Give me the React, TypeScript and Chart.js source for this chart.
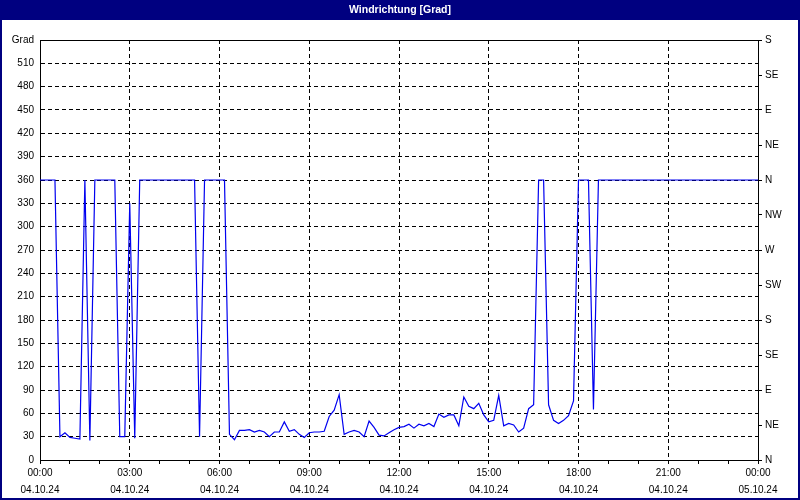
import React, { useEffect, useRef } from 'react';
import { Chart, registerables } from 'chart.js';

Chart.register(...registerables);

const TITLE = 'Windrichtung [Grad]';
const Y_UNIT_LABEL = 'Grad';
const INTERVAL_MIN = 10;

// wind direction in degrees, one reading every 10 minutes (04.10.24 00:00 -> 05.10.24 00:00)
const WIND_DIR: number[] = [
  360, 360, 360, 360, 30, 35, 29, 28, 27, 360,
  25, 360, 360, 360, 360, 360, 30, 30, 330, 28,
  360, 360, 360, 360, 360, 360, 360, 360, 360, 360,
  360, 360, 30, 360, 360, 360, 360, 360, 33, 26,
  38, 38, 39, 36, 38, 36, 30, 36, 36, 49,
  37, 39, 33, 29, 35, 36, 36, 37, 56, 64,
  84, 33, 36, 38, 36, 30, 50, 42, 32, 31,
  35, 39, 42, 43, 46, 41, 46, 44, 47, 43,
  59, 55, 58, 58, 44, 81, 69, 66, 73, 58,
  49, 51, 83, 44, 47, 45, 36, 41, 66, 71,
  360, 360, 71, 51, 47, 51, 57, 76, 360, 360,
  360, 65, 360, 360, 360, 360, 360, 360, 360, 360,
  360, 360, 360, 360, 360, 360, 360, 360, 360, 360,
  360, 360, 360, 360, 360, 360, 360, 360, 360, 360,
  360, 360, 360, 360, 360,
];
const TIME_MIN: number[] = WIND_DIR.map((_, i) => i * INTERVAL_MIN);

const X_TICK_TIMES = ['00:00', '03:00', '06:00', '09:00', '12:00', '15:00', '18:00', '21:00', '00:00'];
const X_TICK_DATES = ['04.10.24', '04.10.24', '04.10.24', '04.10.24', '04.10.24', '04.10.24', '04.10.24', '04.10.24', '05.10.24'];
const COMPASS = ['N', 'NE', 'E', 'SE', 'S', 'SW', 'W', 'NW', 'N', 'NE', 'E', 'SE', 'S'];

const NAVY = '#000080';
const FONT = 'Liberation Sans, Arial, sans-serif';

const framePlugin = {
  id: 'frame',
  beforeDraw(chart: any) {
    const { ctx, width, height } = chart;
    ctx.save();
    ctx.fillStyle = '#ffffff';
    ctx.fillRect(0, 0, width, height);
    ctx.fillStyle = NAVY;
    ctx.fillRect(0, 0, width, 20);
    ctx.strokeStyle = NAVY;
    ctx.lineWidth = 2;
    ctx.strokeRect(1, 1, width - 2, height - 2);
    ctx.restore();
  },
  afterDraw(chart: any) {
    const { ctx, chartArea } = chart;
    ctx.save();
    ctx.strokeStyle = '#000';
    ctx.lineWidth = 1;
    ctx.beginPath();
    ctx.moveTo(chartArea.left, chartArea.top + 0.5);
    ctx.lineTo(chartArea.right + 1, chartArea.top + 0.5);
    ctx.stroke();
    ctx.restore();
  },
};

export default function App() {
  const ref = useRef<HTMLCanvasElement | null>(null);

  useEffect(() => {
    if (!ref.current) return;
    const tickFont = { family: FONT, size: 10 };
    const chart = new Chart(ref.current, {
      type: 'line',
      data: {
        datasets: [
          {
            label: TITLE,
            data: TIME_MIN.map((t, i) => ({ x: t, y: WIND_DIR[i] })),
            borderColor: '#0000f0',
            borderWidth: 1.2,
            pointRadius: 0,
            tension: 0,
            fill: false,
          },
        ],
      },
      options: {
        animation: false,
        responsive: false,
        devicePixelRatio: 1,
        layout: { padding: 0 },
        plugins: {
          legend: { display: false },
          tooltip: { enabled: false },
          title: {
            display: true,
            text: TITLE,
            color: '#ffffff',
            font: { family: FONT, size: 10.5, weight: 'bold', lineHeight: 1 },
            padding: { top: 5, bottom: 24.5 },
          },
        },
        scales: {
          x: {
            type: 'linear',
            min: 0,
            max: 1440,
            afterFit: (s: any) => { s.height = 40; },
            ticks: {
              stepSize: 60,
              autoSkip: false,
              maxRotation: 0,
              padding: 1,
              color: '#000',
              font: { ...tickFont, lineHeight: '17px' },
              callback: (v: any) => {
                const n = Number(v);
                if (n % 180 !== 0) return '';
                const k = n / 180;
                return [X_TICK_TIMES[k], X_TICK_DATES[k]];
              },
            },
            grid: {
              color: (c: any) => (c.tick && c.tick.value % 180 === 0 ? '#000' : 'rgba(0,0,0,0)'),
              tickColor: '#000',
              tickLength: 4,
              tickBorderDash: [],
            },
            border: { display: true, color: '#000', dash: [4, 3] },
          },
          y: {
            type: 'linear',
            position: 'left',
            min: 0,
            max: 540,
            afterFit: (s: any) => { s.width = 40; },
            ticks: {
              stepSize: 30,
              padding: 6,
              color: '#000',
              font: tickFont,
              callback: (v: any) => (Number(v) === 540 ? Y_UNIT_LABEL : String(v)),
            },
            grid: { color: '#000', drawTicks: false },
            border: { display: true, color: '#000', dash: [4, 3] },
          },
          y2: {
            type: 'linear',
            position: 'right',
            min: 0,
            max: 540,
            afterFit: (s: any) => { s.width = 42; },
            ticks: {
              stepSize: 45,
              padding: 3,
              color: '#000',
              font: tickFont,
              callback: (_v: any, i: number) => COMPASS[i],
            },
            grid: { drawOnChartArea: false, tickColor: '#000', tickLength: 4, color: '#000' },
            border: { display: true, color: '#000' },
          },
        },
      },
      plugins: [framePlugin],
    } as any);
    return () => chart.destroy();
  }, []);

  return (
    <div style={{ position: 'absolute', left: 0, top: 0, width: 800, height: 500 }}>
      <canvas ref={ref} width={800} height={500} style={{ display: 'block' }} />
    </div>
  );
}
